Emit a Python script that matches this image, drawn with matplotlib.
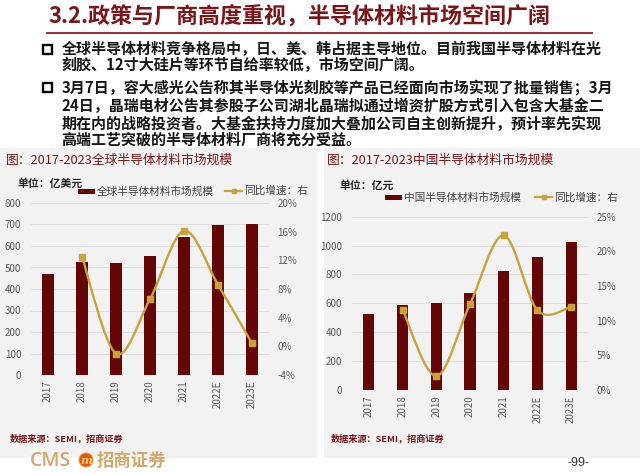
import numpy as np
import matplotlib
matplotlib.use('Agg')
import matplotlib.pyplot as plt
from matplotlib.patches import Rectangle, PathPatch, Ellipse
from matplotlib.path import Path
from matplotlib.lines import Line2D
from matplotlib import ticker

plt.rcParams['font.family'] = ['Noto Sans CJK SC', 'DejaVu Sans']

# data
years = ['2017', '2018', '2019', '2020', '2021', '2022E', '2023E']
global_size = [469, 527, 521, 555, 643, 698, 700]           # 亿美元
global_growth = [np.nan, 12.5, -1.0, 6.6, 16.1, 8.6, 0.4]    # %
china_size = [527, 587, 600, 672, 822, 919, 1025]            # 亿元
china_growth = [np.nan, 11.6, 2.0, 12.4, 22.3, 11.5, 12.0]   # %

title = '3.2.政策与厂商高度重视，半导体材料市场空间广阔'
bullet_lines = [
    '全球半导体材料竞争格局中，日、美、韩占据主导地位。目前我国半导体材料在光',
    '刻胶、12寸大硅片等环节自给率较低，市场空间广阔。',
    '3月7日，容大感光公告称其半导体光刻胶等产品已经面向市场实现了批量销售；3月',
    '24日，晶瑞电材公告其参股子公司湖北晶瑞拟通过增资扩股方式引入包含大基金二',
    '期在内的战略投资者。大基金扶持力度加大叠加公司自主创新提升，预计率先实现',
    '高端工艺突破的半导体材料厂商将充分受益。',
]

BAR = '#640606'
GOLD = '#C9A23A'
DARKRED = '#7B1517'
TICK = '#595959'
W, H = 640, 473


def fx(x):
    return x / W


def fy(y):
    return 1 - y / H


def smooth_path(xs, ys):
    # Catmull-Rom style smoothing through the data points (like Excel smoothed lines)
    pts = np.column_stack([xs, ys])
    n = len(pts)
    verts = [pts[0]]
    codes = [Path.MOVETO]
    for i in range(n - 1):
        p0 = pts[max(i - 1, 0)]
        p1 = pts[i]
        p2 = pts[i + 1]
        p3 = pts[min(i + 2, n - 1)]
        verts += [p1 + (p2 - p0) / 6, p2 - (p3 - p1) / 6, p2]
        codes += [Path.CURVE4] * 3
    return Path(verts, codes)


fig = plt.figure(figsize=(6.4, 4.73), dpi=100)
fig.patch.set_facecolor('white')

# title + underline
fig.text(fx(48), fy(16), title, fontsize=15.8, weight='bold', color=DARKRED,
         va='center', ha='left')
fig.add_artist(Line2D([fx(47), fx(592)], [fy(33.5), fy(33.5)], color='#A3282B', lw=1.4))

# bullets
line_y = [49, 65, 88, 106, 124, 140]
for txt, y in zip(bullet_lines, line_y):
    fig.text(fx(61.5), fy(y), txt, fontsize=10.8, weight='bold', color='#161616',
             va='center', ha='left')
for y in [49, 88]:
    fig.add_artist(Rectangle((fx(43), fy(y + 4.5)), 9 / W, 9 / H, transform=fig.transFigure,
                             fill=False, edgecolor='black', lw=1.7))

# grey panels
for x0, x1 in [(0, 318), (324, 640)]:
    fig.add_artist(Rectangle((fx(x0), fy(458)), (x1 - x0) / W, (458 - 148) / H,
                             transform=fig.transFigure, facecolor='#F2F2F2',
                             edgecolor='none', zorder=0))


def panel(px0, ptitle, unit, unit_y, sizes, growth, ylim, ystep, gylim, gstep,
          axbox, leg_y, leg_bar_x, leg_line_x, leg_text1):
    fig.text(fx(px0 + 6), fy(160), ptitle, fontsize=9.2, color=DARKRED,
             va='center', ha='left')
    fig.text(fx(px0 + 18), fy(unit_y), unit, fontsize=7.8, weight='bold',
             color='#262626', va='center', ha='left')

    # legend
    fig.add_artist(Rectangle((fx(leg_bar_x), fy(leg_y + 2.5)), 17 / W, 5 / H,
                             transform=fig.transFigure, facecolor=BAR, edgecolor='none'))
    fig.text(fx(leg_bar_x + 19), fy(leg_y), leg_text1, fontsize=7.7, color='#404040',
             va='center', ha='left')
    fig.add_artist(Line2D([fx(leg_line_x), fx(leg_line_x + 17)], [fy(leg_y), fy(leg_y)],
                          color=GOLD, lw=1.6))
    fig.add_artist(Line2D([fx(leg_line_x + 8.5)], [fy(leg_y)], color=GOLD, marker='s',
                          markersize=3.5, lw=0))
    fig.text(fx(leg_line_x + 19), fy(leg_y), '同比增速：右', fontsize=7.7, color='#404040',
             va='center', ha='left')

    x0, x1, ytop, ybot = axbox
    ax = fig.add_axes([fx(x0), fy(ybot), (x1 - x0) / W, (ybot - ytop) / H])
    ax.patch.set_visible(False)
    x = np.arange(len(years))
    ax.bar(x, sizes, width=0.33, color=BAR, zorder=3)
    ax.set_xlim(-0.5, len(years) - 0.5)
    ax.set_ylim(*ylim)
    ax.yaxis.set_major_locator(ticker.MultipleLocator(ystep))
    ax.grid(axis='y', color='#D9D9D9', lw=0.6, zorder=0)
    ax.set_xticks(x)
    ax.set_xticklabels(years, rotation=90, fontsize=7, color=TICK)
    ax.tick_params(axis='both', length=0, labelsize=7, labelcolor=TICK)
    ax.tick_params(axis='y', pad=7)
    ax.tick_params(axis='x', pad=4)
    for s in ax.spines.values():
        s.set_visible(False)

    ax2 = ax.twinx()
    ax2.set_ylim(*gylim)
    ax2.yaxis.set_major_locator(ticker.MultipleLocator(gstep))
    ax2.yaxis.set_major_formatter(ticker.FuncFormatter(lambda v, p: '%d%%' % round(v)))
    ax2.tick_params(axis='y', length=0, labelsize=7, labelcolor=TICK, pad=6)
    for s in ax2.spines.values():
        s.set_visible(False)
    gx = x[1:]
    gy = np.array(growth[1:], dtype=float)
    ax2.add_patch(PathPatch(smooth_path(gx, gy), facecolor='none', edgecolor=GOLD,
                            lw=1.7, zorder=4))
    ax2.plot(gx, gy, 's', color=GOLD, markersize=4, zorder=5)

    fig.text(fx(px0 + 10), fy(438), '数据来源：SEMI，招商证券', fontsize=6.6, weight='bold',
             color=DARKRED, va='center', ha='left')


panel(0, '图：2017-2023全球半导体材料市场规模', '单位：亿美元', 183,
      global_size, global_growth, (0, 800), 100, (-4, 20), 4,
      (31, 269, 203, 375), 191, 78, 225, '全球半导体材料市场规模')
panel(321, '图：2017-2023中国半导体材料市场规模', '单位：亿元', 185,
      china_size, china_growth, (0, 1200), 200, (0, 25), 5,
      (352, 588, 216.7, 390), 197.5, 385, 535, '中国半导体材料市场规模')

# footer
fig.text(fx(30), fy(461), 'CMS', fontsize=14, weight='semibold', color='#D4A66A',
         family=['Open Sans', 'DejaVu Sans'], va='center', ha='left')
fig.add_artist(Ellipse((fx(86), fy(460)), 14 / W, 14 / H, transform=fig.transFigure,
                       facecolor='#E2521C', edgecolor='#F0A030', lw=0.8))
fig.text(fx(86), fy(460.5), 'm', fontsize=8, weight='bold', style='italic',
         color='#F6D36A', va='center', ha='center', family=['DejaVu Serif'])
fig.text(fx(97), fy(461), '招商证券', fontsize=12.5, weight='bold', color='#D4A66A',
         va='center', ha='left')
fig.text(fx(578), fy(463), '-99-', fontsize=9, color='#333333', va='center', ha='center',
         family=['Liberation Sans', 'DejaVu Sans'])

fig.savefig('out.png', dpi=100)
